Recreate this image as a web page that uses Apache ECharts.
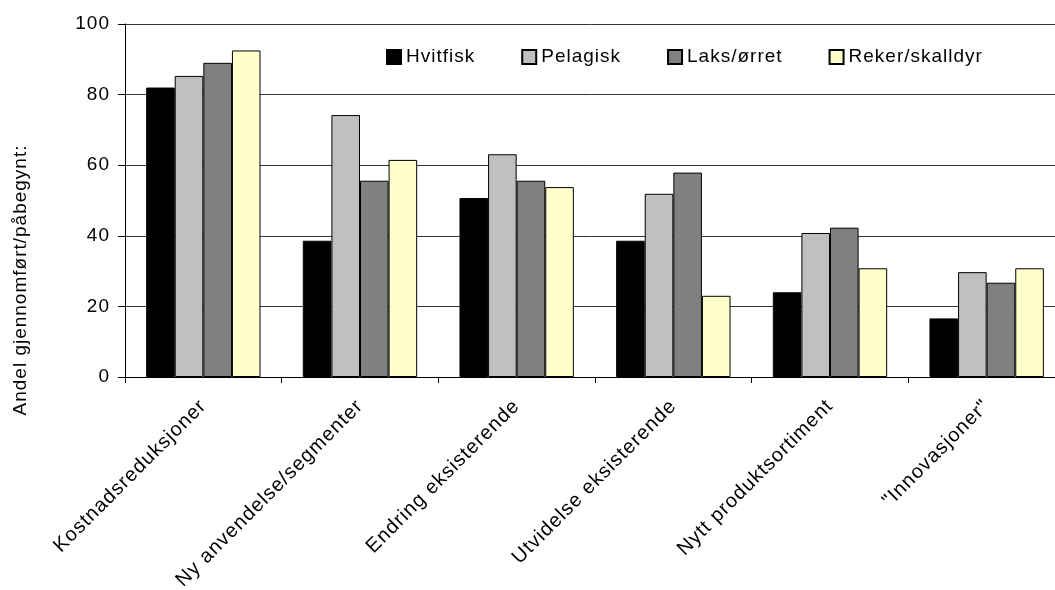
<!DOCTYPE html>
<html>
<head>
<meta charset="utf-8">
<script src="https://cdn.jsdelivr.net/npm/echarts@6/dist/echarts.min.js"></script>
<style>
  html, body { margin: 0; padding: 0; background: #ffffff; }
  #chart { width: 1055px; height: 590px; }
</style>
</head>
<body>
<div id="chart"></div>
<script>
// Slightly looser tracking for all chart text.
(function () {
  var getCtx = HTMLCanvasElement.prototype.getContext;
  HTMLCanvasElement.prototype.getContext = function (type, opts) {
    var ctx = getCtx.call(this, type, opts);
    if (ctx && type === '2d' && 'letterSpacing' in ctx) ctx.letterSpacing = '1px';
    return ctx;
  };
})();

const categories = [
  'Kostnadsreduksjoner',
  'Ny anvendelse/segmenter',
  'Endring eksisterende',
  'Utvidelse eksisterende',
  'Nytt produktsortiment',
  '"Innovasjoner"'
];
const seriesNames = ['Hvitfisk', 'Pelagisk', 'Laks/ørret', 'Reker/skalldyr'];
const hvitfisk = [82.0, 38.6, 50.7, 38.6, 24.0, 16.6];
const pelagisk = [85.3, 74.2, 63.1, 51.9, 40.8, 29.7];
const laksOrret = [89.0, 55.6, 55.6, 57.9, 42.3, 26.7];
const rekerSkalldyr = [92.5, 61.5, 53.8, 23.0, 30.8, 30.8];
const yTicks = { min: 0, max: 100, interval: 20 };
const yTitle = 'Andel gjennomført/påbegynt:';

const colors = ['#000000', '#c0c0c0', '#808080', '#ffffcc'];
const values = [hvitfisk, pelagisk, laksOrret, rekerSkalldyr];
const FONT = 'Liberation Sans, Arial, sans-serif';

const chart = echarts.init(document.getElementById('chart'), null, { renderer: 'canvas' });

chart.setOption({
  animation: false,
  backgroundColor: '#ffffff',
  textStyle: { fontFamily: FONT, color: '#000' },
  // fixed plot box; the last category runs past the right edge of the page
  grid: {
    left: 125, top: 24, width: 940, height: 353,
    containLabel: false,
    outerBoundsMode: 'none'
  },
  legend: {
    left: 386,
    top: 47,
    padding: 0,
    itemWidth: 14,
    itemHeight: 14,
    itemGap: 46,
    icon: 'rect',
    textStyle: { fontFamily: FONT, fontSize: 19, color: '#000' },
    data: seriesNames
  },
  xAxis: {
    type: 'category',
    data: categories,
    boundaryGap: true,
    axisLine: { lineStyle: { color: '#000', width: 1 } },
    axisTick: { show: true, length: 6, alignWithLabel: false, lineStyle: { color: '#000' } },
    axisLabel: {
      interval: 0,
      rotate: 45,
      margin: 26,
      fontFamily: FONT,
      fontSize: 20,
      color: '#000',
      hideOverlap: false
    },
    splitLine: { show: false }
  },
  yAxis: {
    type: 'value',
    min: yTicks.min,
    max: yTicks.max,
    interval: yTicks.interval,
    axisLine: { show: true, lineStyle: { color: '#000', width: 1 } },
    axisTick: { show: true, length: 7, lineStyle: { color: '#000' } },
    axisLabel: { margin: 15, fontFamily: FONT, fontSize: 19, color: '#000' },
    splitLine: { show: true, lineStyle: { color: '#333333', width: 1 } }
  },
  graphic: [{
    type: 'text',
    x: 21,
    y: 280,
    rotation: Math.PI / 2,
    style: {
      text: yTitle,
      fontFamily: FONT,
      fontSize: 19,
      fill: '#000',
      align: 'center',
      verticalAlign: 'middle'
    }
  }],
  series: seriesNames.map(function (name, i) {
    return {
      name: name,
      type: 'bar',
      data: values[i],
      barGap: '0%',
      barCategoryGap: '27%',
      itemStyle: { color: colors[i], borderColor: '#000', borderWidth: 1 },
      emphasis: { disabled: true }
    };
  })
});
</script>
</body>
</html>
